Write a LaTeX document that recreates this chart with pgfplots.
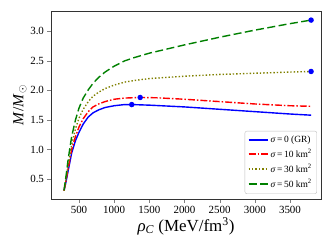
\documentclass[border=0pt]{standalone}
\usepackage{fontspec}
\setmainfont{Liberation Serif}
\usepackage{pgfplots}
\pgfplotsset{compat=1.18}
\definecolor{mblue}{RGB}{0,0,255}
\definecolor{mred}{RGB}{255,0,0}
\definecolor{molive}{RGB}{128,128,0}
\definecolor{mgreen}{RGB}{0,128,0}
\begin{document}
\begin{tikzpicture}
\begin{axis}[
  scale only axis,
  width=270bp, height=188bp,
  xmin=102, xmax=3941, ymin=0.161, ymax=3.344,
  xtick={500,1000,1500,2000,2500,3000,3500},
  ytick={0.5,1.0,1.5,2.0,2.5,3.0},
  yticklabel style={/pgf/number format/.cd,fixed,fixed zerofill,precision=1},
  xticklabel style={/pgf/number format/.cd,1000 sep={}},
  /pgf/number format/assume math mode=true,
  tick label style={font=\fontsize{11}{12}\selectfont},
  tick align=outside, tick pos=left,
  major tick length=3.5bp,
  axis line style={draw=black!80, line width=0.8pt},
  xlabel={\textit{ρ}\textsubscript{\textit{C}} (MeV/fm\textsuperscript{3})},
  ylabel={\textit{M}/\textit{M}$_{\odot}$},
  xlabel style={font=\fontsize{17}{19}\selectfont, yshift=3bp},
  ylabel style={font=\fontsize{15.5}{17}\selectfont, yshift=-3bp},
  legend style={at={(0.985,0.027)}, anchor=south east, font=\fontsize{9.5}{11}\selectfont,
    draw=black!25, rounded corners=2pt, row sep=1.2pt, inner sep=3pt},
  legend cell align=left,
  legend image code/.code={\draw[#1, line width=1.4pt] (0cm,0cm) -- (0.68cm,0cm);},
  every axis plot/.append style={line width=1.4pt},
]
\addplot[mblue, solid] coordinates {
(287,0.30) (310,0.42) (348,0.65) (396,0.94) (450,1.15) (500,1.29) (560,1.43) (632,1.55) (700,1.62) (780,1.67) (870,1.71) (1000,1.74) (1150,1.76) (1250,1.76) (1500,1.75) (2000,1.72) (2500,1.68) (3000,1.64) (3500,1.60) (3800,1.58)};
\addlegendentry{\textit{σ}\,=\,0 (GR)}
\addplot[mred, dash pattern=on 7pt off 2pt on 1.5pt off 2pt] coordinates {
(287,0.30) (310,0.44) (348,0.69) (396,1.00) (450,1.22) (500,1.38) (560,1.52) (632,1.64) (700,1.72) (780,1.77) (870,1.81) (1000,1.85) (1150,1.87) (1370,1.88) (1600,1.875) (2000,1.85) (2500,1.81) (3000,1.77) (3500,1.74) (3800,1.73)};
\addlegendentry{\textit{σ}\,=\,10 km\textsuperscript{2}}
\addplot[molive, dash pattern=on 1.4pt off 2pt] coordinates {
(287,0.30) (310,0.46) (348,0.75) (396,1.08) (450,1.35) (500,1.53) (560,1.68) (632,1.81) (700,1.90) (780,1.97) (870,2.03) (1000,2.09) (1150,2.14) (1300,2.17) (1500,2.20) (2000,2.24) (2500,2.27) (3000,2.29) (3500,2.31) (3800,2.32)};
\addlegendentry{\textit{σ}\,=\,30 km\textsuperscript{2}}
\addplot[mgreen, dash pattern=on 8pt off 3.5pt] coordinates {
(287,0.31) (310,0.50) (348,0.85) (396,1.22) (450,1.50) (500,1.70) (560,1.87) (632,2.01) (700,2.12) (780,2.22) (870,2.31) (1000,2.41) (1150,2.50) (1300,2.56) (1500,2.63) (2000,2.77) (2500,2.90) (3000,3.02) (3500,3.13) (3800,3.19)};
\addlegendentry{\textit{σ}\,=\,50 km\textsuperscript{2}}
\addplot[only marks, mark=*, mark size=2pt, color=mblue, forget plot] coordinates {
(1250,1.76) (1370,1.88) (3800,2.32) (3800,3.19)};
\end{axis}
\pgfresetboundingbox
\path ([shift={(-51bp,-51bp)}]current axis.south west) rectangle ([shift={(12bp,11bp)}]current axis.north east);
\end{tikzpicture}
\end{document}
